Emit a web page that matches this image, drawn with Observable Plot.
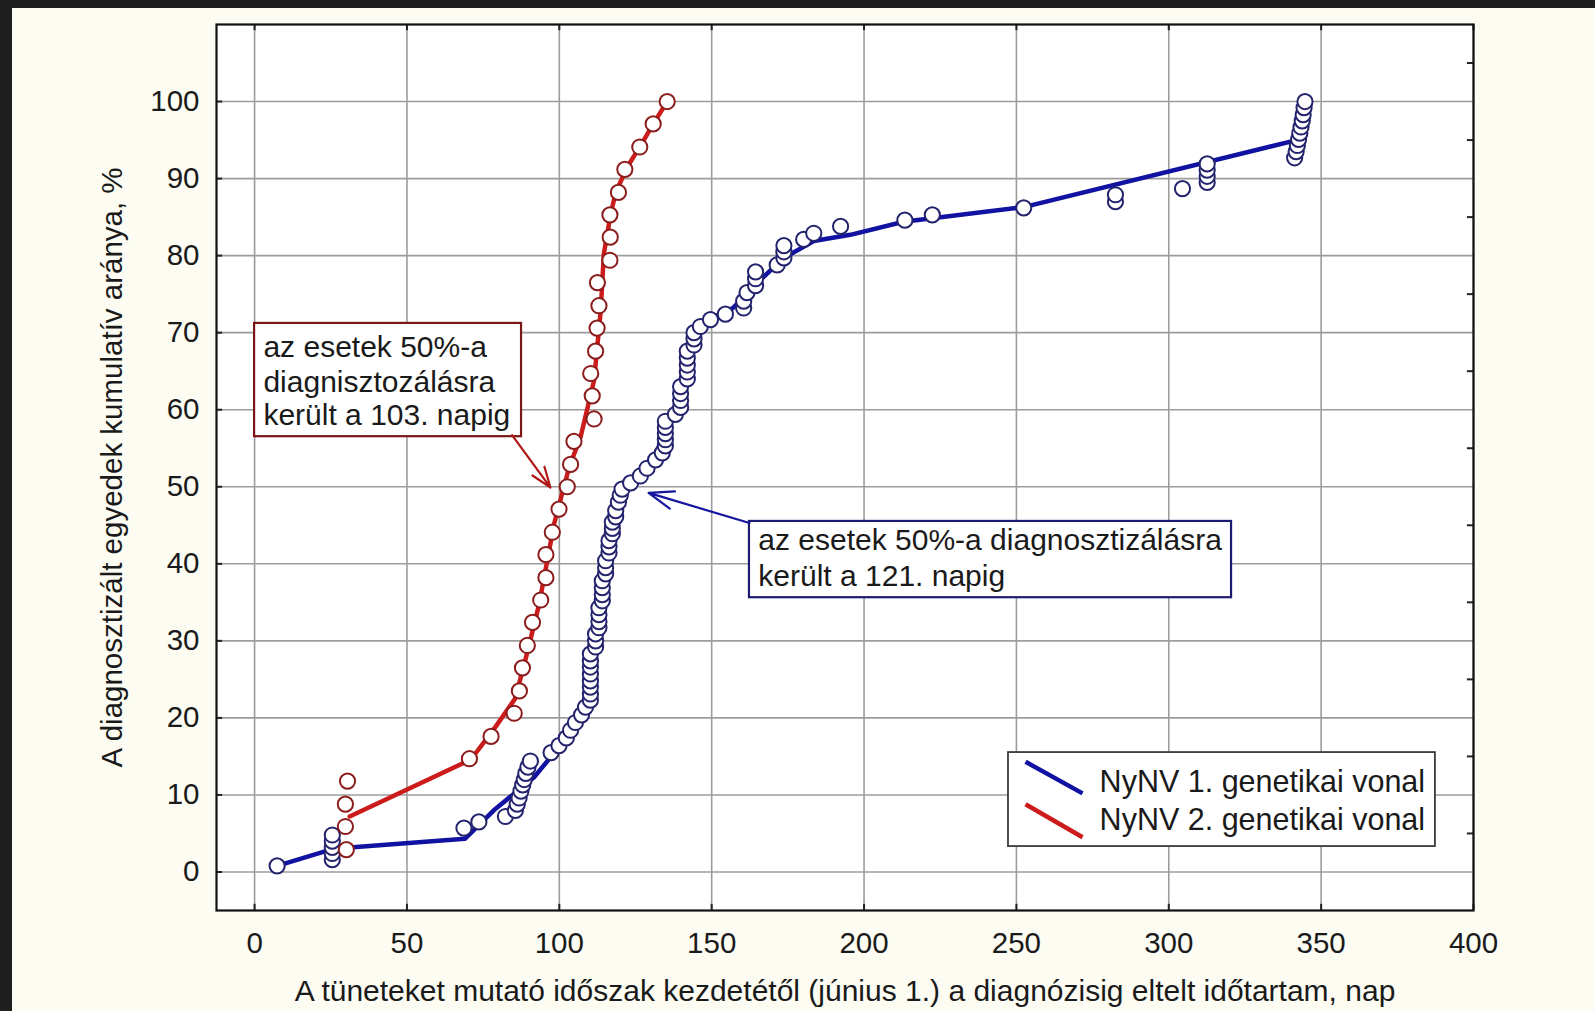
<!DOCTYPE html>
<html><head><meta charset="utf-8">
<script src="https://cdn.jsdelivr.net/npm/d3@7"></script>
<script src="https://cdn.jsdelivr.net/npm/@observablehq/plot@0.6"></script>
<style>
html,body{margin:0;padding:0;background:#fcfcf3;width:1595px;height:1011px;overflow:hidden}
#wrap{position:relative;width:1595px;height:1011px}
#chart{position:absolute;left:0;top:0}
.bt{position:absolute;left:0;top:0;width:1595px;height:8px;background:#1f1f1f}
.bl{position:absolute;left:0;top:0;width:12px;height:1011px;background:#1f1f1f}
</style>
</head><body>
<div id="wrap"><div id="chart"></div><div class="bt"></div><div class="bl"></div></div>
<script>
// ---- scales / ticks ----
const xDomain = [-12.5, 400];
const yDomain = [-5, 110];
const xTicks = [0, 50, 100, 150, 200, 250, 300, 350, 400];
const yTicks = [0, 10, 20, 30, 40, 50, 60, 70, 80, 90, 100];
const yMinorTicks = [5, 15, 25, 35, 45, 55, 65, 75, 85, 95, 105];

// ---- series 1 (NyNV 1., blue): observed points ----
const blueX = [7.4, 25.5, 25.5, 25.5, 25.5, 25.5, 68.7, 73.6, 82.3, 85.6, 86.2, 86.8, 87.4, 88.0, 88.5, 89.0, 89.7, 90.5,
  97.3, 99.9, 102.3, 103.7, 105.3, 107.3, 108.6,
  110.2, 110.2, 110.2, 110.2, 110.2, 110.2, 110.2, 110.2,
  111.9, 111.9, 111.9, 113.0, 113.0, 113.0, 113.0, 114.1, 114.1, 114.1, 114.1,
  115.2, 115.2, 115.2, 116.3, 116.3, 116.3, 117.4, 117.4, 117.4, 118.5, 118.5,
  119.4, 120.0, 120.6, 123.4, 126.6, 128.8, 131.6, 133.8,
  134.8, 134.8, 134.8, 134.8, 134.8, 138.1, 139.8, 139.8, 139.8, 139.8,
  142.0, 142.0, 142.0, 142.0, 142.0, 144.2, 144.2, 144.2, 146.3, 149.6, 154.5,
  160.5, 160.5, 161.6, 164.4, 164.4, 164.4, 171.5, 173.7, 173.7, 173.7, 180.2, 183.5, 192.3,
  213.4, 222.4, 252.4, 282.5, 282.5, 304.5, 312.6, 312.6, 312.6, 312.6,
  341.3, 341.8, 342.2, 342.6, 343.0, 343.4, 343.8, 344.1, 344.4, 344.7];
const blueY = [0.8, 1.6, 2.4, 3.2, 4.0, 4.8, 5.7, 6.5, 7.2, 8.0, 8.8, 9.6, 10.5, 11.3, 12.0, 12.8, 13.6, 14.4,
  15.5, 16.4, 17.4, 18.4, 19.4, 20.4, 21.4,
  22.3, 23.1, 24.0, 24.8, 25.7, 26.6, 27.4, 28.3,
  29.2, 30.0, 30.9, 31.7, 32.5, 33.4, 34.3, 35.2, 36.0, 36.9, 37.8,
  38.7, 39.5, 40.4, 41.4, 42.2, 43.0, 43.9, 44.6, 45.4, 46.1, 46.9,
  48.0, 48.9, 49.7, 50.5, 51.4, 52.4, 53.5, 54.4,
  55.3, 56.1, 56.9, 57.7, 58.5, 59.4, 60.3, 61.2, 62.1, 63.0,
  64.0, 64.9, 65.8, 66.7, 67.6, 68.4, 69.2, 70.0, 70.8, 71.7, 72.4,
  73.2, 74.1, 75.2, 76.1, 77.0, 77.9, 78.8, 79.7, 80.5, 81.3, 82.1, 82.9, 83.8,
  84.6, 85.3, 86.2, 87.0, 87.9, 88.7, 89.5, 90.3, 91.1, 91.9,
  92.7, 93.5, 94.3, 95.1, 95.9, 96.7, 97.5, 98.3, 99.2, 100];
// fitted curve, series 1
const blueLineX = [7.4, 25.8, 69, 78.5, 91.7, 102.6, 108, 110.6, 112.3, 114, 116, 118, 120.5, 124, 130, 134.5, 138, 142, 146.3, 150.5, 157, 165, 173.7, 183.5, 195.5, 213, 252.4, 341];
const blueLineY = [0.8, 3.0, 4.3, 8.0, 12.3, 17.5, 20.5, 24, 30, 36, 42, 46.5, 49.2, 50.6, 53.2, 56.5, 60.5, 65.5, 70.2, 72, 73.2, 76.5, 79.7, 81.9, 82.7, 84.4, 86.3, 94.9];

// ---- series 2 (NyNV 2., red): observed points ----
const redX = [30.1, 29.8, 29.8, 30.5, 70.5, 77.6, 85.2, 86.9, 87.9, 89.5, 91.2, 93.9, 95.6, 95.6, 97.7, 99.9, 102.6, 103.7, 104.8,
  111.4, 110.8, 110.3, 111.9, 112.4, 113.0, 112.5, 116.6, 116.7, 116.6, 119.4, 121.5, 126.4, 130.8, 135.4];
const redY = [2.9, 5.9, 8.8, 11.8, 14.7, 17.6, 20.6, 23.5, 26.5, 29.4, 32.4, 35.3, 38.2, 41.2, 44.1, 47.1, 50.0, 52.9, 55.9,
  58.8, 61.8, 64.7, 67.6, 70.6, 73.5, 76.5, 79.4, 82.4, 85.3, 88.2, 91.2, 94.1, 97.1, 100];
const redLineX = [31.2, 71, 79, 85.5, 89.5, 93.4, 98.3, 103.2, 107, 111.4, 113.6, 114.6, 116.8, 118.5, 122.3, 127, 131, 135.4];
const redLineY = [7.2, 14.6, 18.8, 22.5, 28.5, 34.8, 45.2, 52.5, 56.5, 63.8, 72.9, 80.2, 85.3, 88.2, 91.5, 94.5, 97.2, 100];

// ---- texts ----
const xTitle = "A tüneteket mutató időszak kezdetétől (június 1.) a diagnózisig eltelt időtartam, nap";
const yTitle = "A diagnosztizált egyedek kumulatív aránya, %";
const seriesNames = ["NyNV 1. genetikai vonal", "NyNV 2. genetikai vonal"];
const redNote = ["az esetek 50%-a", "diagnisztozálásra", "került a 103. napig"];
const blueNote = ["az esetek 50%-a diagnosztizálásra", "került a 121. napig"];

// ---- annotation placement (data units) ----
const redBox = {x1: 0, x2: 87.6, y1: 56.5, y2: 71.2};
const redNoteX = 2.9, redNoteY = [68.1, 63.5, 59.2];
const redArrow = {x1: 84.5, y1: 56.7, x2: 97.1, y2: 49.9};
const blueBox = {x1: 162.4, x2: 320.6, y1: 35.6, y2: 45.5};
const blueNoteX = 165.3, blueNoteY = [43.1, 38.4];
const blueArrow = {x1: 162.4, y1: 45.3, x2: 129.3, y2: 49.2};
const legendBox = {x1: 247.4, x2: 387.5, y1: 3.3, y2: 15.5};
const legendLines = [
  {x1: 253.0, y1: 14.3, x2: 271.7, y2: 10.2, c: "blue"},
  {x1: 253.0, y1: 8.8, x2: 271.7, y2: 4.5, c: "red"}];
const legendTextX = 277.3, legendTextY = [11.6, 6.7];

const BLUE = "#1212a2", RED = "#cc1b1b";
const BLUE_DOT = "#23236e", RED_DOT = "#8c1c1c";
const FONT = "'Liberation Sans', Arial, Helvetica, sans-serif";

const blue = blueX.map((x, i) => ({x, y: blueY[i]}));
const red = redX.map((x, i) => ({x, y: redY[i]}));
const blueLine = blueLineX.map((x, i) => ({x, y: blueLineY[i]}));
const redLine = redLineX.map((x, i) => ({x, y: redLineY[i]}));

const chart = Plot.plot({
  width: 1595, height: 1011,
  marginLeft: 216, marginRight: 122, marginTop: 24, marginBottom: 101,
  style: {background: "transparent", fontFamily: FONT, color: "#1a1a1a"},
  x: {domain: xDomain},
  y: {domain: yDomain},
  marks: [
    Plot.frame({fill: "white", stroke: "none"}),
    Plot.ruleX(xTicks, {stroke: "#9c9c9c", strokeWidth: 1.6}),
    Plot.ruleY(yTicks, {stroke: "#9c9c9c", strokeWidth: 1.6}),
    // inner ticks
    Plot.ruleY(yTicks, {x1: xDomain[0], x2: xDomain[0] + 2, stroke: "#222", strokeWidth: 2}),
    Plot.ruleY(yMinorTicks, {x1: xDomain[1] - 2, x2: xDomain[1], stroke: "#222", strokeWidth: 2}),
    Plot.ruleX(xTicks, {y1: yDomain[0], y2: yDomain[0] + 0.8, stroke: "#222", strokeWidth: 2}),
    Plot.ruleX(xTicks, {y1: yDomain[1] - 0.8, y2: yDomain[1], stroke: "#222", strokeWidth: 2}),
    Plot.axisX(xTicks, {tickSize: 0, tickPadding: 22, fontSize: 29.5, label: null, tickFormat: d => String(d)}),
    Plot.axisY(yTicks, {tickSize: 0, tickPadding: 17, fontSize: 29.5, label: null, tickFormat: d => String(d)}),
    Plot.text([xTitle], {frameAnchor: "bottom", dy: 90, text: d => d, textAnchor: "middle", fontSize: 30, fill: "#1a1a1a"}),
    Plot.text([yTitle], {frameAnchor: "left", dx: -104, rotate: -90, text: d => d, textAnchor: "middle", fontSize: 29.5, fill: "#1a1a1a"}),
    // fitted lines
    Plot.line(blueLine, {x: "x", y: "y", stroke: BLUE, strokeWidth: 4.5}),
    Plot.line(redLine, {x: "x", y: "y", stroke: RED, strokeWidth: 4.5}),
    // observed points
    Plot.dot(blue, {x: "x", y: "y", r: 7.6, fill: "white", stroke: BLUE_DOT, strokeWidth: 2}),
    Plot.dot(red, {x: "x", y: "y", r: 7.6, fill: "white", stroke: RED_DOT, strokeWidth: 2}),
    // red annotation
    Plot.rect([redBox], {x1: "x1", x2: "x2", y1: "y1", y2: "y2", fill: "white", stroke: "#7a1616", strokeWidth: 2.2}),
    Plot.text(redNote, {x: redNoteX, y: (d, i) => redNoteY[i], text: d => d, textAnchor: "start", fontSize: 30, fill: "#1a1a1a"}),
    Plot.arrow([redArrow], {x1: "x1", y1: "y1", x2: "x2", y2: "y2", stroke: "#b01818", strokeWidth: 2.2, headLength: 18, headAngle: 40}),
    // blue annotation
    Plot.rect([blueBox], {x1: "x1", x2: "x2", y1: "y1", y2: "y2", fill: "white", stroke: "#1c1c70", strokeWidth: 2.2}),
    Plot.text(blueNote, {x: blueNoteX, y: (d, i) => blueNoteY[i], text: d => d, textAnchor: "start", fontSize: 30, fill: "#1a1a1a"}),
    Plot.arrow([blueArrow], {x1: "x1", y1: "y1", x2: "x2", y2: "y2", stroke: "#1616a0", strokeWidth: 2.2, headLength: 18, headAngle: 40}),
    // legend
    Plot.rect([legendBox], {x1: "x1", x2: "x2", y1: "y1", y2: "y2", fill: "white", stroke: "#3a3a3a", strokeWidth: 1.8}),
    Plot.link(legendLines, {x1: "x1", y1: "y1", x2: "x2", y2: "y2", stroke: d => d.c === "blue" ? BLUE : RED, strokeWidth: 4.5}),
    Plot.text(seriesNames, {x: legendTextX, y: (d, i) => legendTextY[i], text: d => d, textAnchor: "start", fontSize: 30.5, fill: "#1a1a1a"}),
    Plot.frame({stroke: "#111", strokeWidth: 2.2})
  ]
});
document.getElementById("chart").appendChild(chart);
</script>
</body></html>
